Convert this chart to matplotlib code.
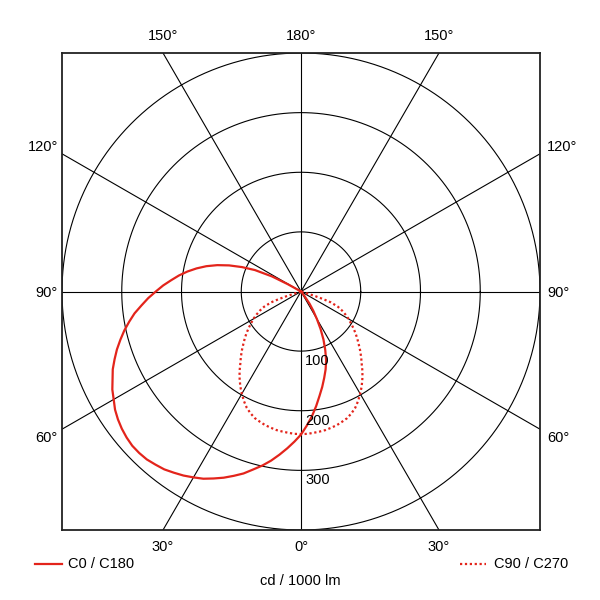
import numpy as np
import matplotlib
matplotlib.use("Agg")
import matplotlib.pyplot as plt

plt.rcParams["font.family"] = ["Liberation Sans", "DejaVu Sans"]

# C0 / C180 plane: gamma in degrees (negative = C180 side, positive = C0 side), cd/1000 lm
c0_gamma = [-120, -119, -117.5, -115, -112.5, -110, -107.5, -105, -102.5, -100,
            -97.5, -95, -92.5, -90, -87.5, -85, -82.5, -80, -77.5, -75, -72.5,
            -70, -67.5, -65, -62.5, -60, -57.5, -55, -52.5, -50, -47.5, -45,
            -42.5, -40, -37.5, -35, -32.5, -30, -27.5, -25, -22.5, -20, -17.5,
            -15, -12.5, -10, -7.5, -5, -2.5,
            0, 2.5, 5, 7.5, 10, 12.5, 15, 17.5, 20, 22.5, 25, 27.5, 30, 32.5,
            35, 37, 38]
c0_values = [0, 25, 55, 85, 107, 128, 147, 164, 179, 193,
             206, 218, 231, 243, 256, 268, 281, 292, 303, 313, 323,
             332, 341, 348, 356, 362, 369, 374, 378, 381, 383, 383,
             382, 379, 376, 371, 366, 360, 354, 346, 338, 329, 320,
             309, 299, 288, 276, 264, 252,
             240, 225, 210, 194, 178, 164, 150, 137, 123, 106, 89, 71, 53, 38,
             25, 10, 0]

# C90 / C270 plane (symmetric), gamma 0..73
c90_gamma = [0, 2.5, 5, 7.5, 10, 12.5, 15, 17.5, 20, 22.5, 25, 27.5, 30, 32.5,
             35, 37.5, 40, 42.5, 45, 47.5, 50, 52.5, 55, 57.5, 60, 62.5, 65,
             67.5, 70, 71, 72, 73]
c90_values = [239, 239, 238, 237, 236, 234, 232, 229, 226, 221, 215, 207, 198, 189,
              179, 169, 158, 149, 140, 131, 123, 115, 107, 99, 92, 84, 76,
              67, 53, 40, 25, 0]

rings = [100, 200, 300, 400]
ring_labels = ["100", "200", "300"]
RMAX = 400
RED = "#e3241b"
FS = 10.5

fig = plt.figure(figsize=(6, 6), dpi=100)
ax = fig.add_axes([62 / 600, 70 / 600, 478 / 600, 477 / 600])
ax.set_xlim(-RMAX, RMAX)
ax.set_ylim(-RMAX, RMAX)
ax.set_xticks([])
ax.set_yticks([])
for s in ax.spines.values():
    s.set_linewidth(1.3)
    s.set_color("#222222")

# grid: circles and spokes every 30 deg
t = np.linspace(0, 2 * np.pi, 400)
for r in rings:
    ax.plot(r * np.cos(t), r * np.sin(t), color="black", lw=0.8, zorder=1)
ax.axhline(0, color="black", lw=0.8, zorder=1)
ax.axvline(0, color="black", lw=0.8, zorder=1)
for a in [30, 60, 120, 150]:
    ax.axline((0, 0), slope=np.tan(np.radians(a)), color="black", lw=0.8, zorder=1)

# curves
g = np.radians(c0_gamma)
v = np.array(c0_values)
ax.plot(v * np.sin(g), -v * np.cos(g), color=RED, lw=1.6, zorder=3,
        solid_joinstyle="round")

g2 = np.radians(c90_gamma)
v2 = np.array(c90_values)
xs = np.concatenate([-(v2 * np.sin(g2))[::-1], (v2 * np.sin(g2))[1:]])
ys = np.concatenate([(-v2 * np.cos(g2))[::-1], (-v2 * np.cos(g2))[1:]])
ax.plot(xs, ys, color=RED, lw=1.6, ls=(0, (1, 1.2)), zorder=3)

# ring values
for r, lab in zip(rings, ring_labels):
    ax.annotate(lab, (0, -r), xytext=(3, -2), textcoords="offset points",
                ha="left", va="top", fontsize=FS)

# angle labels
edge = RMAX * np.tan(np.radians(30))
top = [(-edge, "150°"), (0, "180°"), (edge, "150°")]
bottom = [(-edge, "30°"), (0, "0°"), (edge, "30°")]
for x, lab in top:
    ax.annotate(lab, (x, RMAX), xytext=(0, 12), textcoords="offset points",
                ha="center", va="center", fontsize=FS, annotation_clip=False)
for x, lab in bottom:
    ax.annotate(lab, (x, -RMAX), xytext=(0, -12), textcoords="offset points",
                ha="center", va="center", fontsize=FS, annotation_clip=False)
sides = [(edge, "120°", 5), (0, "90°", -1), (-edge, "60°", -6)]
for y, lab, dy in sides:
    ax.annotate(lab, (-RMAX, y), xytext=(-3, dy), textcoords="offset points",
                ha="right", va="center", fontsize=FS, annotation_clip=False)
    ax.annotate(lab, (RMAX, y), xytext=(5, dy), textcoords="offset points",
                ha="left", va="center", fontsize=FS, annotation_clip=False)

# legend and unit
ly = 1 - 564 / 600
fig.lines.append(plt.Line2D([35 / 600, 62 / 600], [ly, ly],
                            transform=fig.transFigure, color=RED, lw=1.6))
fig.text(68 / 600, ly, "C0 / C180", ha="left", va="center", fontsize=FS)
fig.lines.append(plt.Line2D([460 / 600, 486 / 600], [ly, ly],
                            transform=fig.transFigure, color=RED, lw=1.6,
                            ls=(0, (1, 1.2))))
fig.text(494 / 600, ly, "C90 / C270", ha="left", va="center", fontsize=FS)
fig.text(0.5, 1 - 581 / 600, "cd / 1000 lm", ha="center", va="center", fontsize=FS)

fig.savefig("out.png", dpi=100)
